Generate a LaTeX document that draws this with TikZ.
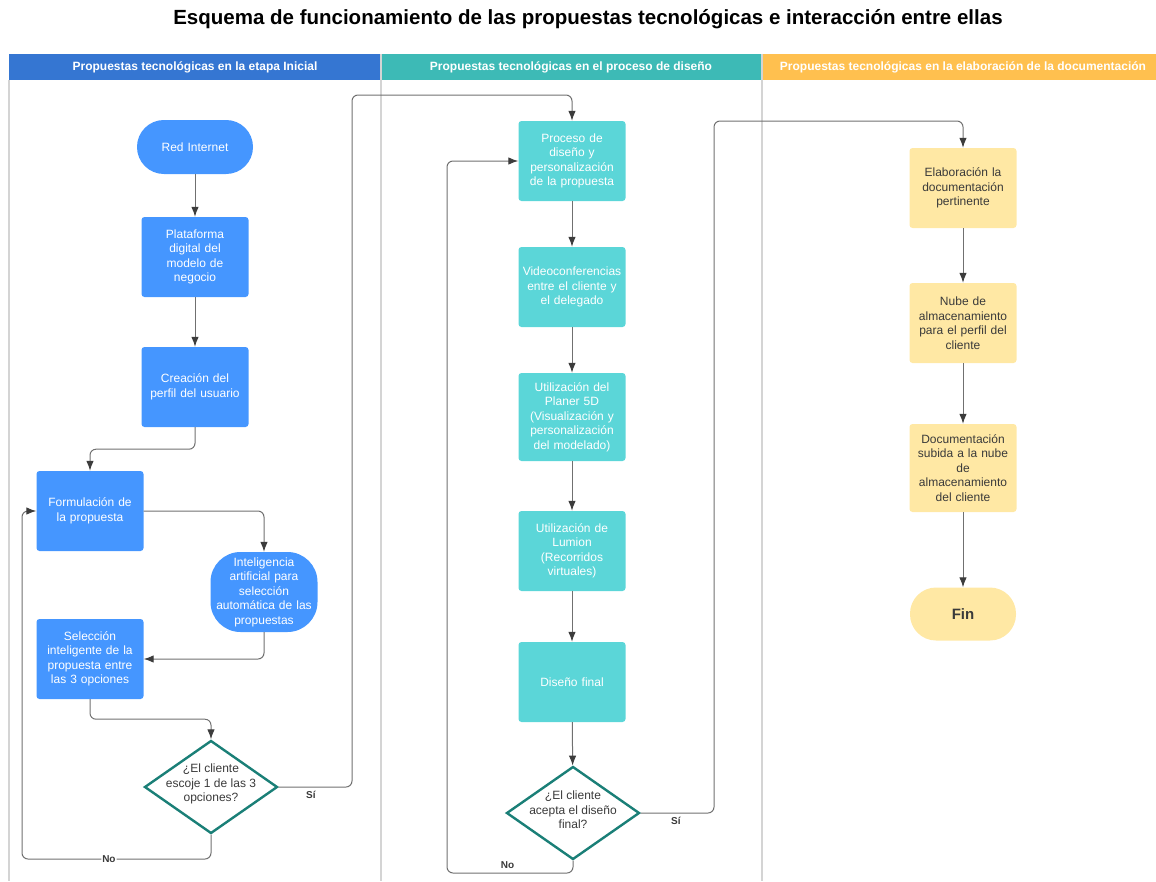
\documentclass[tikz,border=0pt]{standalone}
\usepackage{fontspec}
\setmainfont{Liberation Sans}
\usepackage{xcolor}
\usetikzlibrary{shapes,arrows.meta,positioning,calc}

\definecolor{hdblue}{HTML}{3576D2}
\definecolor{hdteal}{HTML}{3DBAB6}
\definecolor{hdorange}{HTML}{FFC04F}
\definecolor{boxblue}{HTML}{4596FF}
\definecolor{boxteal}{HTML}{5BD6D8}
\definecolor{boxyellow}{HTML}{FFE8A4}
\definecolor{dteal}{HTML}{1A7F77}
\definecolor{lanegray}{HTML}{D4D4D4}
\definecolor{linegray}{HTML}{707070}
\definecolor{tipgray}{HTML}{3C3C3C}
\definecolor{textdark}{HTML}{3A3A3A}

\begin{document}
\begin{tikzpicture}[x=1pt,y=-1pt,
    txt/.style={font=\fontsize{12}{14.5}\selectfont},
    box/.style={rectangle, rounded corners=3pt, minimum width=107pt, minimum height=80pt,
        text width=105pt, inner sep=0pt, align=center, txt},
    bluebox/.style={box, fill=boxblue, text=white},
    tealbox/.style={box, fill=boxteal, text=white},
    yellowbox/.style={box, fill=boxyellow, text=textdark},
    decision/.style={diamond, draw=dteal, line width=2.4pt, fill=white, minimum width=133pt,
        minimum height=93pt, inner sep=0pt, text=textdark, txt},
    hdtxt/.style={text=white, font=\fontsize{12}{14}\selectfont\bfseries},
    lane/.style={draw=lanegray, line width=1.5pt},
    flow/.style={draw=linegray, line width=1pt, rounded corners=6pt,
        -{Latex[length=10pt,width=7.5pt,color=tipgray]}},
    lbl/.style={text=textdark, inner sep=1pt, font=\fontsize{10}{12}\selectfont\bfseries}]

    \useasboundingbox (0,0) rectangle (1156,881);

    \node[font=\fontsize{20.5}{24}\selectfont\bfseries] (title) at (588,19)
        {Esquema de funcionamiento de las propuestas tecnológicas e interacción entre ellas};

    \fill[hdblue] (9,54) rectangle (381,80);
    \fill[hdteal] (381,54) rectangle (762,80);
    \fill[hdorange] (762,54) rectangle (1156,80);
    \node[hdtxt] (h1) at (195,67) {Propuestas tecnológicas en la etapa Inicial};
    \node[hdtxt] (h2) at (571,67) {Propuestas tecnológicas en el proceso de diseño};
    \node[hdtxt] (h3) at (963,67) {Propuestas tecnológicas en la elaboración de la documentación};
    \draw[lane] (9,80) -- (9,881);
    \draw[lane] (381,54) -- (381,881);
    \draw[lane] (762,54) -- (762,881);

    \node[bluebox, rounded corners=26.9pt, minimum width=116pt, minimum height=54pt] (red) at (195,147) {Red Internet};
    \node[bluebox] (plat) at (195,257) {Plataforma\\digital del\\modelo de\\negocio};
    \node[bluebox] (crea) at (195,387) {Creación del\\perfil del usuario};
    \node[bluebox] (form) at (90,511) {Formulación de\\la propuesta};
    \node[bluebox, rounded corners=30pt] (ia) at (264,592) {Inteligencia\\artificial para\\selección\\automática de las\\propuestas};
    \node[bluebox] (sel) at (90,659) {Selección\\inteligente de la\\propuesta entre\\las 3 opciones};
    \node[decision] (d1) at (211,787) {\smash{\makebox[0pt]{\parbox[c]{120pt}{\centering ¿El cliente\\escoje 1 de las 3\\opciones?}}}};

    \node[tealbox] (proc) at (572,161) {Proceso de\\diseño y\\personalización\\de la propuesta};
    \node[tealbox] (video) at (572,287) {Videoconferencias\\entre el cliente y\\el delegado};
    \node[tealbox, minimum height=88pt] (planer) at (572,417) {Utilización del\\Planer 5D\\(Visualización y\\personalización\\del modelado)};
    \node[tealbox] (lumion) at (572,551) {Utilización de\\Lumion\\(Recorridos\\virtuales)};
    \node[tealbox] (final) at (572,682) {Diseño final};
    \node[decision] (d2) at (573,813) {\smash{\makebox[0pt]{\parbox[c]{120pt}{\centering ¿El cliente\\acepta el diseño\\final?}}}};

    \node[yellowbox] (elab) at (963,188) {Elaboración la\\documentación\\pertinente};
    \node[yellowbox] (nube) at (963,323) {Nube de\\almacenamiento\\para el perfil del\\cliente};
    \node[yellowbox, minimum height=88pt] (docs) at (963,468) {Documentación\\subida a la nube\\de\\almacenamiento\\del cliente};
    \node[yellowbox, rounded corners=26pt, minimum width=106pt, minimum height=53pt,
        font=\fontsize{15}{18}\selectfont\bfseries] (fin) at (963,614) {Fin};

    \coordinate (si1) at (352,95);
    \coordinate (no1) at (22,859);
    \coordinate (si2) at (714,121);
    \coordinate (no2) at (447,873);

    \draw[flow] (red) -- (plat);
    \draw[flow] (plat) -- (crea);
    \draw[flow] (crea.south) -- ++(0,22) -| (form.north);
    \draw[flow] (form.east) -| (ia.north);
    \draw[flow] (ia.south) |- (sel.east);
    \draw[flow] (sel.south) -- ++(0,20) -| (d1.north);
    \draw[flow] (d1.east) -| node[lbl, pos=0.22, below=3pt] {Sí} (si1) -| (proc.north);
    \draw[flow] (d1.south) |- node[lbl, pos=0.77, fill=white] {No} (no1) |- (form.west);

    \draw[flow] (proc) -- (video);
    \draw[flow] (video) -- (planer);
    \draw[flow] (planer) -- (lumion);
    \draw[flow] (lumion) -- (final);
    \draw[flow] (final) -- (d2);
    \draw[flow] (d2.east) -| node[lbl, pos=0.24, below=3pt] {Sí} (si2) -| (elab.north);
    \draw[flow] (d2.south) |- node[lbl, pos=0.76, above=3pt] {No} (no2) |- (proc.west);

    \draw[flow] (elab) -- (nube);
    \draw[flow] (nube) -- (docs);
    \draw[flow] (docs) -- (fin);
\end{tikzpicture}
\end{document}
